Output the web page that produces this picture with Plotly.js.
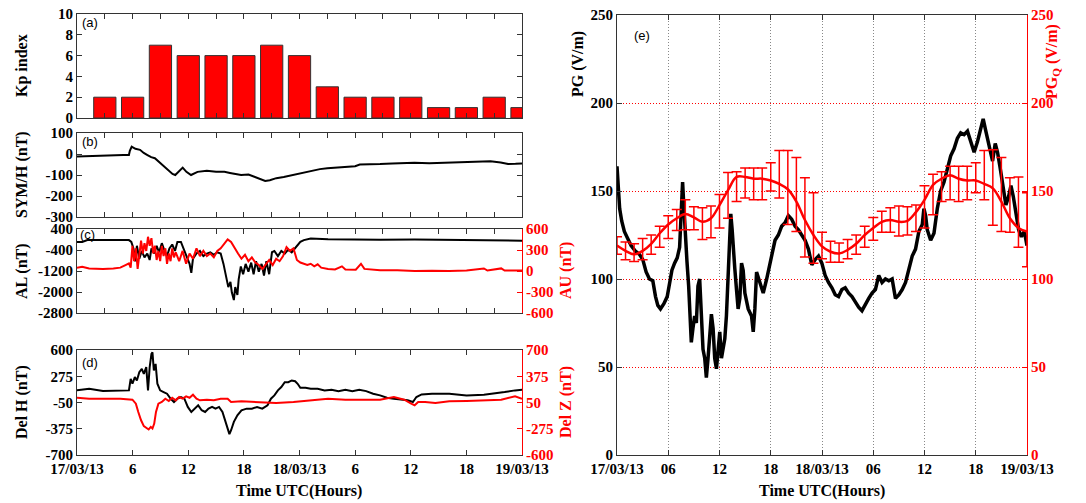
<!DOCTYPE html>
<html><head><meta charset="utf-8">
<script src="https://cdn.plot.ly/plotly-3.0.1.min.js"></script>
<style>html,body{margin:0;padding:0;background:#fff}#chart{width:1086px;height:503px}</style>
</head><body><div id="chart"></div>
<script>
// ---------------- DATA ----------------
const kpHours  = [3,6,9,12,15,18,21,24,27,30,33,36,39,42,45,48];
const kpValues = [2,2,7,6,6,6,7,6,3,2,2,2,1,1,2,1];

const symT = [0,1,2,3,4,5,5.6,5.7,5.9,6.3,6.8,7.2,7.6,8.0,8.4,8.8,9.3,9.8,10.3,10.6,11.0,11.4,11.8,12.3,13,14,15,15.9,16.5,17.2,17.7,18.5,19.3,20.0,20.3,20.8,21.5,22.3,23.3,24.3,25.2,26.2,27,28,29,30,30.5,31.5,32.7,34,35,36.4,38,40,42,43,44.6,45.7,46.5,47.3,48];
const symV = [-12,-10,-8,-6,-5,-5,-5,15,35,25,20,5,-5,-15,-20,-35,-55,-75,-95,-100,-80,-65,-85,-100,-85,-80,-85,-85,-90,-95,-100,-98,-110,-120,-128,-125,-115,-110,-100,-90,-80,-72,-68,-65,-62,-58,-50,-50,-48,-45,-43,-42,-44,-42,-38,-36,-35,-40,-48,-47,-45];

const alT = [0,0.56,1.12,2.80,4.67,5.60,5.86,6.09,6.28,6.46,6.72,6.99,7.28,7.58,7.84,8.03,8.33,8.59,8.85,9.15,9.45,9.71,9.97,10.27,10.57,10.83,11.21,11.58,11.95,12.14,12.33,12.51,12.89,13.26,13.63,14.01,14.38,14.76,15.13,15.50,15.80,16.06,16.32,16.55,16.70,16.92,17.07,17.30,17.44,17.67,17.92,18.19,18.49,18.79,19.05,19.31,19.61,19.91,20.17,20.43,20.73,21.03,21.29,21.67,22.04,22.41,22.79,23.16,23.53,23.80,24.09,24.47,24.84,25.21,27.08,28.95,32.69,36.42,40.16,43.89,45.01,45.76,48];
const alV = [-92,-92,-23,-13,-13,-23,-92,-338,-830,-240,-732,-437,-683,-535,-781,-338,-535,-240,-486,-141,-437,-633,-338,-190,-437,-92,-92,-437,-830,-929,-1273,-732,-535,-437,-633,-535,-486,-584,-486,-535,-929,-1322,-1815,-1618,-2011,-2307,-1815,-2110,-1519,-1027,-1322,-929,-1224,-880,-1322,-830,-1224,-929,-1372,-830,-1322,-486,-437,-633,-437,-535,-387,-486,-338,-190,-92,-23,6,36,6,-4,-13,-4,-13,-13,-43,-23,-43];

const auT = [0,0.56,1.31,2.80,3.92,4.67,5.23,5.60,5.79,5.98,6.16,6.35,6.54,6.72,6.91,7.10,7.28,7.47,7.66,7.84,8.03,8.22,8.40,8.59,8.78,8.97,9.15,9.34,9.53,9.71,9.90,10.09,10.27,10.46,10.65,11.02,11.39,11.77,12.14,12.51,12.89,13.26,13.63,14.01,14.38,14.76,15.13,15.50,15.88,16.25,16.62,17.00,17.37,17.74,18.12,18.49,18.86,19.24,19.61,19.99,20.36,20.73,21.11,21.48,21.85,22.23,22.60,22.97,23.35,23.72,24.09,24.47,24.84,25.21,25.59,25.96,26.34,27.08,27.83,28.58,28.95,30.07,30.63,31.00,32.69,34.55,36.42,38.29,40.16,42.02,43.89,44.27,45.76,46.13,48];
const auV = [48,59,37,30,37,48,85,110,48,360,140,324,30,213,434,250,397,287,489,360,470,250,360,158,287,140,360,213,324,103,250,140,324,195,268,140,287,103,250,176,324,213,287,213,250,195,287,324,397,452,415,324,250,176,232,140,195,121,85,30,103,158,85,176,140,213,342,287,324,158,121,103,85,103,66,96,48,30,22,66,22,18,103,30,11,11,0,4,0,7,37,7,37,7,7];

const dhT = [0,1.31,2.80,4.30,5.60,5.79,5.98,6.24,6.46,6.72,6.99,7.21,7.47,7.66,7.84,8.03,8.14,8.29,8.48,8.67,8.97,9.34,9.71,10.09,10.46,10.83,11.21,11.58,11.95,12.33,12.70,13.07,13.45,13.82,14.19,14.57,14.94,15.32,15.69,15.95,16.25,16.44,16.62,16.92,17.30,17.74,18.30,18.86,19.42,19.99,20.55,20.92,21.29,21.67,22.04,22.41,22.79,23.16,23.53,23.80,24.09,24.65,25.21,25.96,26.71,27.46,28.20,28.95,29.70,30.44,31.19,31.94,32.69,33.43,34.18,34.93,35.67,36.23,36.61,37.17,38.29,40.16,42.02,43.89,45.01,46.13,47.25,48];
const dhV = [100,120,91,100,100,243,182,264,223,325,366,305,387,100,387,551,571,346,428,182,100,79,59,-3,-44,-3,18,-3,-105,-167,-126,-85,-146,-167,-126,-105,-126,-105,-167,-270,-393,-442,-393,-290,-208,-147,-126,-126,-105,-126,-85,-3,38,100,141,202,202,223,214,182,132,132,120,120,100,108,91,108,91,108,91,59,38,9,-3,-15,-23,-44,18,50,59,59,38,46,59,79,100,108];

const dzT = [0,1.31,2.80,4.67,5.98,6.35,6.61,6.91,7.21,7.47,7.73,7.96,8.14,8.33,8.52,8.78,9.15,9.53,9.90,10.27,10.65,11.02,11.39,11.77,12.14,12.51,12.89,13.26,14.01,14.76,15.50,16.25,16.62,17.74,19.61,21.48,23.35,25.21,27.08,28.95,30.82,32.69,34.18,35.30,36.05,36.42,36.80,37.55,38.66,40.16,42.02,43.89,45.76,47.25,48];
const dzV = [109,97,97,97,85,36,-67,-170,-243,-260,-284,-252,-272,-211,-67,36,56,97,68,109,77,118,97,126,109,146,97,77,85,77,97,97,56,64,56,44,56,77,97,85,85,85,118,85,36,15,56,56,44,64,68,77,85,126,97];

const pgT = [0,0.16,0.31,0.55,0.86,1.25,1.65,2.12,2.63,3.02,3.41,3.80,4.19,4.51,4.78,5.09,5.49,5.88,6.15,6.43,6.74,7.05,7.33,7.52,7.68,7.84,7.99,8.19,8.39,8.54,8.70,8.89,9.09,9.29,9.48,9.68,9.87,10.07,10.27,10.46,10.66,10.85,11.05,11.25,11.44,11.64,11.83,12.03,12.23,12.42,12.62,12.81,13.01,13.21,13.32,13.48,13.64,13.79,13.99,14.18,14.38,14.58,14.77,14.97,15.36,15.75,15.95,16.14,16.34,16.73,17.12,17.52,17.91,18.18,18.50,18.89,19.28,19.67,20.06,20.45,20.85,21.24,21.63,22.02,22.41,22.81,23.20,23.59,23.98,24.37,24.76,25.16,25.55,25.94,26.33,26.72,27.12,27.51,27.90,28.29,28.68,29.08,29.47,29.86,30.25,30.64,31.03,31.43,31.82,32.21,32.60,32.99,33.39,33.78,34.17,34.56,34.95,35.34,35.74,35.93,36.13,36.32,36.72,37.11,37.50,37.89,38.28,38.68,39.07,39.46,39.85,40.24,40.63,41.03,41.42,41.81,42.20,42.59,42.87,43.18,43.57,43.97,44.28,44.55,44.83,45.14,45.53,45.85,46.12,46.39,46.71,47.02,47.34,47.69,48];
const pgV = [164,150,140,133,127,123,119,116,114,111,104,100,99,90,85,83,86,90,99,105,109,112,118,140,155,140,125,110,96,80,64,72,79,75,96,100,79,60,55,44,55,68,80,72,55,49,60,70,55,62,66,79,98,125,137,128,112,106,94,83,89,109,105,92,83,79,70,83,104,98,92,100,109,117,122,125,130,132,136,134,130,128,125,122,117,108,111,113,109,102,98,95,91,90,94,95,92,90,87,84,82,86,89,92,94,102,98,100,99,100,89,91,94,98,106,113,117,127,131,140,136,128,122,126,140,150,155,162,170,174,180,183,182,184,178,172,178,186,191,184,175,167,177,172,164,153,142,147,153,147,137,128,124,127,119];

const pgqT = [0,1,2,3,4,5,6,7,8,9,10,11,12,13,14,15,16,17,18,19,20,21,22,23,24,25,26,27,28,29,30,31,32,33,34,35,36,37,38,39,40,41,42,43,44,45,46,47,48];
const pgqV = [119,116,114,116,120,126,131,134.5,137,135,132.5,134.5,142,150.5,158,158,157,157,156,154,151,144,133.5,125,118.5,115.5,114.5,116.5,120,125,129,132.5,133.5,132.5,133,138,145,153.5,157,159,157,156,156,154,151.5,144,134.5,129,127];
const pgqUp   = [5,5,6,7,5,4,5,5,8,6,8,7,6,10,3,5,6,6,10,19,22,25,24,24,8,6,6,6,5,5,6,6,7,9,8,4,8,6,4,5,7,8,10,19,22,25,23,29,22];
const pgqDown = [5,5,4,5,6,8,8,7,9,7,10,11,13,16,14,12,12,12,6,8,20,17,21,16,7,6,5,5,6,7,7,6,7,8,8,11,16,17,13,14,13,11,7,9,21,17,8,11,20];

const hourTicks = [0,6,12,18,24,30,36,42,48];
const leftTimeLabels  = ['17/03/13','6','12','18','18/03/13','6','12','18','19/03/13'];
const rightTimeLabels = ['17/03/13','06','12','18','18/03/13','06','12','18','19/03/13'];
const minorHourTicks = [0,3,6,9,12,15,18,21,24,27,30,33,36,39,42,45,48];
const kpTicks = [0,2,4,6,8,10];
const symTicks = [-300,-200,-100,0,100];
const alTicks = [-2800,-2000,-1200,-400,400];
const auTicks = [-600,-300,0,300,600];
const dhTicks = [-700,-375,-50,275,600];
const dzTicks = [-600,-275,50,375,700];
const pgTicks = [0,50,100,150,200,250];

// ---------------- LAYOUT ----------------
const W = 1086, H = 503;
const SERIF = '"Liberation Serif", "Times New Roman", serif';
const RED = '#ff0000';
const px = v => v / W;
const py = v => (H - v) / H;
const lab = a => a.map(v => String(v));

const L = [px(77), px(522)];
const R = [px(617), px(1027)];
const dA = [py(118), py(14)];
const dB = [py(217), py(133)];
const dC = [py(313), py(229)];
const dD = [py(455), py(350)];
const dE = [py(455), py(15)];

function ax(o) {
  return Object.assign({
    showline: true, linecolor: '#333', linewidth: 1, ticks: 'inside', ticklen: 5,
    tickcolor: '#333', tickwidth: 1, showgrid: false, zeroline: false, fixedrange: true,
    tickfont: {family: SERIF, size: 15, color: '#000', weight: 'bold'}, automargin: false
  }, o);
}
function redAx(o) {
  return ax(Object.assign({linecolor: RED, tickcolor: RED,
    tickfont: {family: SERIF, size: 15, color: RED, weight: 'bold'}}, o));
}

const traces = [
  {type: 'bar', x: kpHours, y: kpValues, xaxis: 'x', yaxis: 'y', width: 2.4,
   marker: {color: RED, line: {color: '#333', width: 1}}},
  {type: 'scatter', mode: 'lines', x: symT, y: symV, xaxis: 'x2', yaxis: 'y2', line: {color: '#000', width: 2}},
  {type: 'scatter', mode: 'lines', x: alT, y: alV, xaxis: 'x3', yaxis: 'y3', line: {color: '#000', width: 2}},
  {type: 'scatter', mode: 'lines', x: auT, y: auV, xaxis: 'x3', yaxis: 'y4', line: {color: RED, width: 2}},
  {type: 'scatter', mode: 'lines', x: dhT, y: dhV, xaxis: 'x4', yaxis: 'y5', line: {color: '#000', width: 2}},
  {type: 'scatter', mode: 'lines', x: dzT, y: dzV, xaxis: 'x4', yaxis: 'y6', line: {color: RED, width: 2}},
  {type: 'scatter', mode: 'lines', x: pgT, y: pgV, xaxis: 'x5', yaxis: 'y7', line: {color: '#000', width: 3.5}},
  {type: 'scatter', mode: 'lines', x: pgqT, y: pgqV, xaxis: 'x5', yaxis: 'y8',
   line: {color: RED, width: 2.5, shape: 'spline', smoothing: 1},
   error_y: {type: 'data', symmetric: false, array: pgqUp, arrayminus: pgqDown, color: RED, thickness: 1.5, width: 5}}
];

function ann(text, x, y, o) {
  return Object.assign({text: text, xref: 'paper', yref: 'paper', x: px(x), y: py(y),
    xanchor: 'center', yanchor: 'middle', showarrow: false,
    font: {family: SERIF, size: 16, color: '#000', weight: 'bold'}}, o || {});
}
const redTitle = {family: SERIF, size: 16, color: RED, weight: 'bold'};
const letterFont = {family: '"Liberation Sans", Arial, sans-serif', size: 13, color: '#000'};

const annotations = [
  ann('Kp index', 22, 66, {textangle: -90}),
  ann('SYM/H (nT)', 22, 175, {textangle: -90}),
  ann('AL (nT)', 22, 271, {textangle: -90}),
  ann('Del H (nT)', 22, 402, {textangle: -90}),
  ann('AU (nT)', 566, 271, {textangle: -90, font: redTitle}),
  ann('Del Z (nT)', 566, 402, {textangle: -90, font: redTitle}),
  ann('PG (V/m)', 578, 64, {textangle: -90}),
  ann('PG<sub>Q</sub> (V/m)', 1052, 62, {textangle: -90, font: redTitle}),
  ann('Time UTC(Hours)', 299, 491),
  ann('Time UTC(Hours)', 822, 491),
  ann('(a)', 80, 22, {xanchor: 'left', font: letterFont}),
  ann('(b)', 80, 141, {xanchor: 'left', font: letterFont}),
  ann('(c)', 78, 235, {xanchor: 'left', font: letterFont}),
  ann('(d)', 80, 362, {xanchor: 'left', font: letterFont}),
  ann('(e)', 632, 35, {xanchor: 'left', font: letterFont})
];

const layout = {
  width: W, height: H, margin: {l: 0, r: 0, t: 0, b: 0},
  paper_bgcolor: '#fff', plot_bgcolor: '#fff', showlegend: false,
  xaxis:  ax({domain: L, anchor: 'y',  range: [0, 48], tickvals: minorHourTicks, showticklabels: false, mirror: 'ticks'}),
  xaxis2: ax({domain: L, anchor: 'y2', range: [0, 48], tickvals: minorHourTicks, showticklabels: false, mirror: 'ticks'}),
  xaxis3: ax({domain: L, anchor: 'y3', range: [0, 48], tickvals: minorHourTicks, showticklabels: false, mirror: 'ticks'}),
  xaxis4: ax({domain: L, anchor: 'y5', range: [0, 48], tickvals: hourTicks, ticktext: leftTimeLabels, mirror: 'ticks'}),
  xaxis5: ax({domain: R, anchor: 'y7', range: [0, 48], tickvals: hourTicks, ticktext: rightTimeLabels, mirror: 'ticks',
              showgrid: true, gridcolor: '#888888', griddash: '1px,2px', gridwidth: 1}),
  yaxis:  ax({domain: dA, anchor: 'x',  range: [0, 10], tickvals: kpTicks, ticktext: lab(kpTicks), mirror: 'ticks'}),
  yaxis2: ax({domain: dB, anchor: 'x2', range: [-300, 100], tickvals: symTicks, ticktext: lab(symTicks), mirror: 'ticks'}),
  yaxis3: ax({domain: dC, anchor: 'x3', range: [-2800, 400], tickvals: alTicks, ticktext: lab(alTicks)}),
  yaxis4: redAx({overlaying: 'y3', side: 'right', anchor: 'x3', range: [-600, 600], tickvals: auTicks, ticktext: lab(auTicks)}),
  yaxis5: ax({domain: dD, anchor: 'x4', range: [-700, 600], tickvals: dhTicks, ticktext: lab(dhTicks)}),
  yaxis6: redAx({overlaying: 'y5', side: 'right', anchor: 'x4', range: [-600, 700], tickvals: dzTicks, ticktext: lab(dzTicks)}),
  yaxis7: ax({domain: dE, anchor: 'x5', range: [0, 250], tickvals: pgTicks, ticktext: lab(pgTicks),
              showgrid: true, gridcolor: RED, griddash: '1px,2px', gridwidth: 1}),
  yaxis8: redAx({overlaying: 'y7', side: 'right', anchor: 'x5', range: [0, 250], tickvals: pgTicks, ticktext: lab(pgTicks)}),
  annotations: annotations
};

Plotly.newPlot('chart', traces, layout, {displayModeBar: false, staticPlot: true});
</script></body></html>
